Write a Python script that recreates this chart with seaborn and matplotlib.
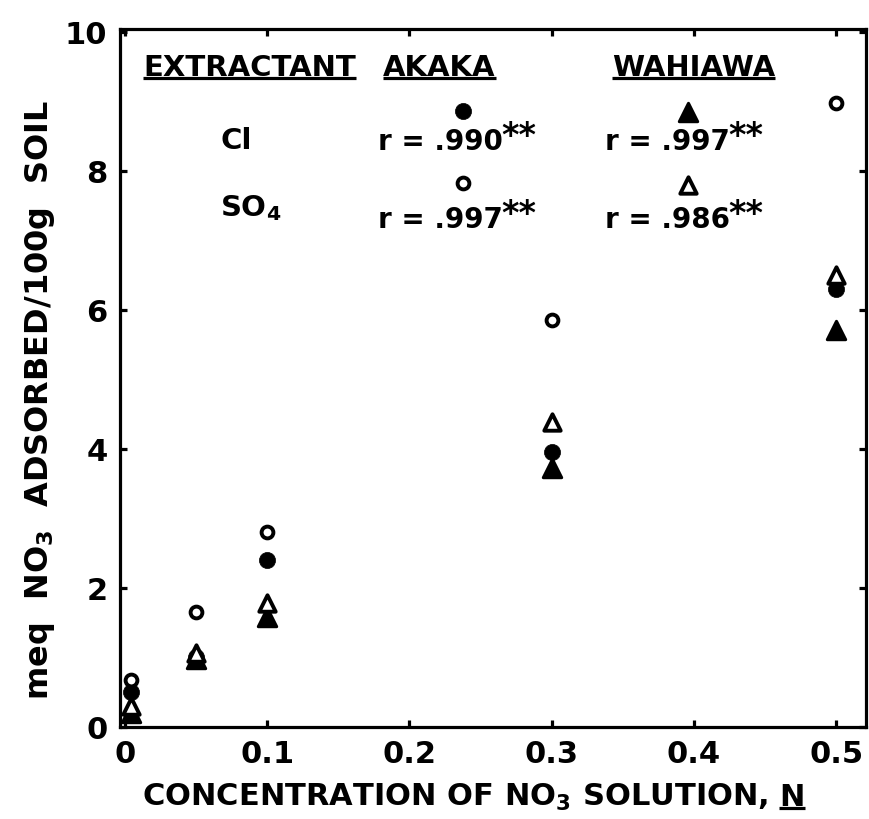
import matplotlib
matplotlib.use("Agg")
import matplotlib.pyplot as plt
from matplotlib.lines import Line2D
import numpy as np
import pandas as pd
import seaborn as sns

# ---------------- data ----------------
conc = [0.004, 0.05, 0.1, 0.3, 0.5]
akaka_cl = [0.50, 1.00, 2.40, 3.96, 6.30]      # filled circle
akaka_so4 = [0.68, 1.65, 2.81, 5.85, 8.97]     # open circle
wahiawa_cl = [0.20, 0.98, 1.58, 3.73, 5.71]    # filled triangle
wahiawa_so4 = [0.30, 1.06, 1.79, 4.38, 6.50]   # open triangle

x_ticks = [0, 0.1, 0.2, 0.3, 0.4, 0.5]
x_tick_labels = ["0", "0.1", "0.2", "0.3", "0.4", "0.5"]
y_ticks = [0, 2, 4, 6, 8, 10]
y_tick_labels = ["0", "2", "4", "6", "8", "10"]

r_values = {"Akaka Cl": ".990", "Akaka SO4": ".997",
            "Wahiawa Cl": ".997", "Wahiawa SO4": ".986"}

df = pd.DataFrame({
    "conc": conc * 4,
    "meq": akaka_cl + wahiawa_cl + akaka_so4 + wahiawa_so4,
    "series": (["Akaka Cl"] * 5 + ["Wahiawa Cl"] * 5 +
               ["Akaka SO4"] * 5 + ["Wahiawa SO4"] * 5),
})

styles = {
    "Akaka Cl": dict(marker="o", s=135, color="black", edgecolor="black", linewidth=0.5),
    "Wahiawa Cl": dict(marker="^", s=175, color="black", edgecolor="black", linewidth=2.2),
    "Akaka SO4": dict(marker="o", s=72, color="white", edgecolor="black", linewidth=2.8),
    "Wahiawa SO4": dict(marker="^", s=140, color="white", edgecolor="black", linewidth=2.8),
}

# ---------------- style ----------------
sns.set_style("ticks")
plt.rcParams["font.family"] = ["DejaVu Sans"]
plt.rcParams["font.weight"] = "bold"
plt.rcParams["text.color"] = "black"
plt.rcParams["mathtext.default"] = "regular"
plt.rcParams["axes.linewidth"] = 2.3

W, H = 869, 820
fig = plt.figure(figsize=(W / 100, H / 100), dpi=100)
ax = fig.add_axes([120 / W, 1 - 728 / H, 746 / W, 698 / H])

for name in ["Akaka Cl", "Wahiawa Cl", "Akaka SO4", "Wahiawa SO4"]:
    sub = df[df["series"] == name]
    sns.scatterplot(data=sub, x="conc", y="meq", ax=ax, legend=False,
                    joinstyle="round", zorder=3, **styles[name])

ax.set_xlim(-0.0035, 0.521)
ax.set_ylim(0, 10.04)
ax.set_xticks(x_ticks)
ax.set_xticklabels(x_tick_labels)
ax.set_yticks(y_ticks)
ax.set_yticklabels(y_tick_labels)
ax.tick_params(direction="in", length=5, width=2.3, top=True, right=True,
               labelsize=22, color="black", labelcolor="black")
ax.tick_params(axis="x", pad=9)
ax.tick_params(axis="y", pad=9)
for lab in ax.get_xticklabels() + ax.get_yticklabels():
    lab.set_fontweight("bold")
ax.set_xlabel("")
ax.set_ylabel("")
for sp in ax.spines.values():
    sp.set_visible(True)
    sp.set_color("black")


def fx(px):
    return (px - 120) / 746


def fy(py):
    return (728 - py) / 698


tkw = dict(transform=ax.transAxes, fontweight="bold", color="black", va="center")
h1 = ax.text(fx(143), fy(68), "EXTRACTANT", fontsize=21, ha="left", **tkw)
h2 = ax.text(fx(383), fy(68), "AKAKA", fontsize=21, ha="left", **tkw)
h3 = ax.text(fx(612), fy(68), "WAHIAWA", fontsize=21, ha="left", **tkw)
ax.text(fx(220), fy(141), "Cl", fontsize=21, ha="left", **tkw)
ax.text(fx(220), fy(208), "SO$_4$", fontsize=21, ha="left", **tkw)

rows = {"Cl": 142, "SO4": 220}
cols = {"Akaka": 378, "Wahiawa": 605}
for soil in ["Akaka", "Wahiawa"]:
    for ext in ["Cl", "SO4"]:
        t = ax.text(fx(cols[soil]), fy(rows[ext]), "r = " + r_values[soil + " " + ext],
                    fontsize=20, ha="left", **tkw)
        ax.annotate("**", xy=(1, 1), xycoords=t, xytext=(-1, 6),
                    textcoords="offset points", ha="left", va="top",
                    fontsize=24, fontweight="bold", color="black")

# key markers
key_pos = {"Akaka Cl": (463, 112), "Akaka SO4": (463, 184),
           "Wahiawa Cl": (688, 113), "Wahiawa SO4": (688, 186)}
for name, (px, py) in key_pos.items():
    st = dict(styles[name])
    ax.scatter([fx(px)], [fy(py)], transform=ax.transAxes, clip_on=False,
               joinstyle="round", zorder=3, **st)

# axis labels
xl = fig.text(142 / W, 1 - 806 / H, "CONCENTRATION OF NO$_3$ SOLUTION,",
              fontsize=22, fontweight="bold", ha="left", va="baseline")
fig.text(40 / W, 1 - 400 / H, "meq  NO$_3$  ADSORBED/100g  SOIL",
         fontsize=23, fontweight="bold", rotation=90, ha="center", va="center")

fig.canvas.draw()
renderer = fig.canvas.get_renderer()
bb = xl.get_window_extent(renderer)
xn = fig.text((bb.x1 + 11) / W, 1 - 806 / H, "N", fontsize=22,
              fontweight="bold", ha="left", va="baseline")
fig.canvas.draw()


def underline(t, off=3, lw=2.3):
    b = t.get_window_extent(renderer)
    y = (b.y0 + off) / H
    fig.add_artist(Line2D([b.x0 / W, b.x1 / W], [y, y], transform=fig.transFigure,
                          color="black", lw=lw, solid_capstyle="butt"))


for t in (h1, h2, h3):
    underline(t)
underline(xn)

fig.savefig("out.png", dpi=100)
